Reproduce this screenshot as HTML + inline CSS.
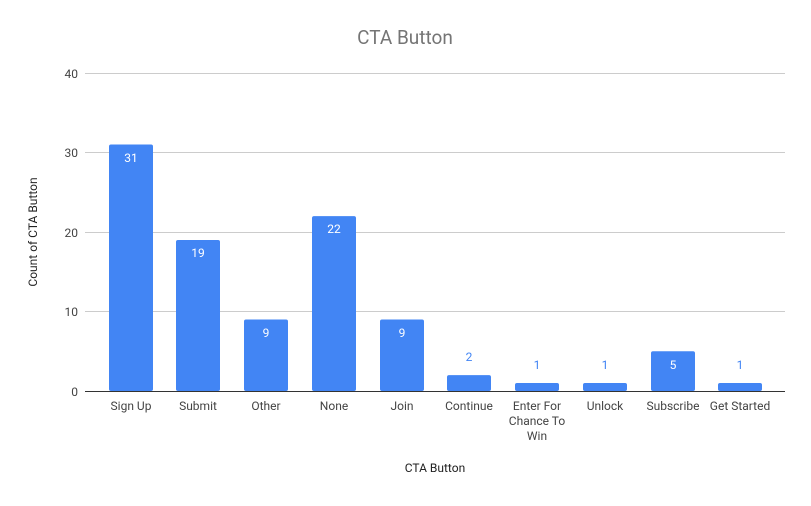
<!DOCTYPE html>
<html><head><style>body{margin:0;background:#fff}</style></head><body>
<svg width="811" height="501" xmlns="http://www.w3.org/2000/svg" font-family="Roboto, 'Liberation Sans', sans-serif">
<rect width="811" height="501" fill="#fff"/>
<text x="405" y="44" text-anchor="middle" font-size="19" fill="#757575">CTA Button</text>
<g stroke="#cccccc" stroke-width="1">
<line x1="85" x2="785" y1="73.5" y2="73.5"/>
<line x1="85" x2="785" y1="152.5" y2="152.5"/>
<line x1="85" x2="785" y1="232.5" y2="232.5"/>
<line x1="85" x2="785" y1="311.5" y2="311.5"/>
</g>
<g font-size="12" fill="#444" text-anchor="end">
<text x="78" y="78">40</text><text x="78" y="157">30</text><text x="78" y="237">20</text><text x="78" y="316">10</text><text x="78" y="396">0</text>
</g>
<text transform="translate(37,232) rotate(-90)" text-anchor="middle" font-size="12" fill="#222">Count of CTA Button</text>
<g fill="#4285f4">
<rect x="109" y="144.5" width="44" height="246.5" rx="2"/>
<rect x="176" y="240" width="44" height="151" rx="2"/>
<rect x="244" y="319.5" width="44" height="71.5" rx="2"/>
<rect x="312" y="216.1" width="44" height="174.9" rx="2"/>
<rect x="380" y="319.5" width="44" height="71.5" rx="2"/>
<rect x="447" y="375.1" width="44" height="15.9" rx="2"/>
<rect x="515" y="383" width="44" height="8" rx="2"/>
<rect x="583" y="383" width="44" height="8" rx="2"/>
<rect x="651" y="351.2" width="44" height="39.8" rx="2"/>
<rect x="718" y="383" width="44" height="8" rx="2"/>
</g>
<line x1="85" x2="785" y1="391.5" y2="391.5" stroke="#333" stroke-width="1"/>
<g font-size="12" text-anchor="middle" fill="#fff">
<text x="131" y="162">31</text><text x="198" y="257">19</text><text x="266" y="337">9</text><text x="334" y="233">22</text><text x="402" y="337">9</text><text x="673" y="369">5</text>
</g>
<g font-size="12" text-anchor="middle" fill="#4285f4">
<text x="469" y="361">2</text><text x="537" y="369">1</text><text x="605" y="369">1</text><text x="740" y="369">1</text>
</g>
<g font-size="12" text-anchor="middle" fill="#444">
<text x="131" y="410">Sign Up</text><text x="198" y="410">Submit</text><text x="266" y="410">Other</text><text x="334" y="410">None</text><text x="402" y="410">Join</text><text x="469" y="410">Continue</text>
<text x="537" y="410">Enter For</text><text x="537" y="425">Chance To</text><text x="537" y="440">Win</text>
<text x="605" y="410">Unlock</text><text x="673" y="410">Subscribe</text><text x="740" y="410">Get Started</text>
</g>
<text x="435" y="472" text-anchor="middle" font-size="12" fill="#222">CTA Button</text>
</svg>
</body></html>
